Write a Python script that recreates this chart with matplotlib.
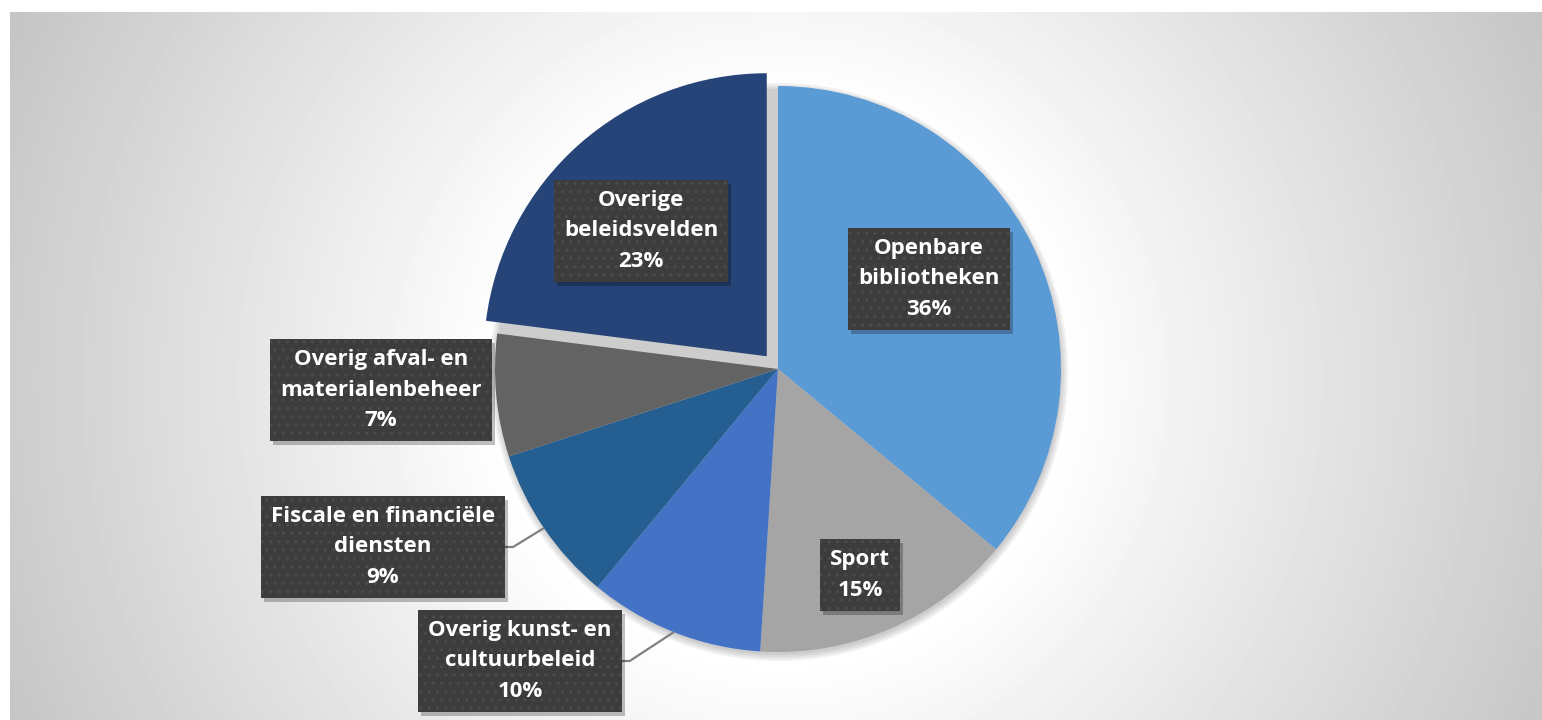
import numpy as np
import matplotlib
matplotlib.use("Agg")
import matplotlib.pyplot as plt
from matplotlib.patches import Rectangle, Circle

# data
categories = [
    "Openbare\nbibliotheken",
    "Sport",
    "Overig kunst- en\ncultuurbeleid",
    "Fiscale en financiële\ndiensten",
    "Overig afval- en\nmaterialenbeheer",
    "Overige\nbeleidsvelden",
]
shares = [36, 15, 10, 9, 7, 23]
colors = ["#5B9BD5", "#A5A5A5", "#4472C4", "#255E91", "#636363", "#264478"]
explode = [0, 0, 0, 0, 0, 17]

# label box centres in pixel coords (x, y from top) and which get leaders
label_pos = [(929, 279), (860, 575), (520, 661), (383, 547), (381, 390), (641, 231)]
has_leader = [False, False, True, True, False, False]

W, H = 1542, 720
fig = plt.figure(figsize=(W / 100, H / 100), dpi=100)
fig.patch.set_facecolor("white")
ax = fig.add_axes([0, 0, 1, 1])

# radial gradient background of the chart area
cx, cy = 780, 380
xs = np.arange(10, W) + 0.5
ys = np.arange(12, H) + 0.5
X, Y = np.meshgrid(xs, ys)
d = np.hypot(X - cx, Y - cy)
v = np.clip(1.113 - 0.000403 * d, 0, 1)
ax.imshow(v, cmap="gray", vmin=0, vmax=1, extent=[10, W, 0, H - 12],
          origin="upper", zorder=0, interpolation="bilinear", aspect="auto")

center = (778, H - 369)
radius = 283

# soft shadow under the pie
for k in range(4):
    ax.add_patch(Circle((center[0] + 1, center[1] - 3), radius + 6 - 2 * k,
                        color="black", alpha=0.05, lw=0, zorder=1))

wedges, _ = ax.pie(shares, colors=colors, startangle=90, counterclock=False,
                   center=center, radius=radius, explode=explode,
                   wedgeprops=dict(linewidth=0), frame=True)
for w in wedges:
    w.set_zorder(2)
ax.set_xlim(0, W)
ax.set_ylim(0, H)
ax.set_aspect("equal")
ax.axis("off")

plt.rcParams["hatch.linewidth"] = 1.2
texts = []
for cat, val, (px, py) in zip(categories, shares, label_pos):
    t = ax.text(px, H - py, f"{cat}\n{val}%", ha="center", va="center",
                multialignment="center", color="white", fontsize=16,
                fontweight="bold", family=["Open Sans", "DejaVu Sans"],
                linespacing=1.6, zorder=5,
                bbox=dict(boxstyle="square,pad=0.45", facecolor="#3c3c3c",
                          edgecolor="#4a4a4a", linewidth=0))
    t.get_bbox_patch().set_hatch("..")
    texts.append(t)

fig.canvas.draw()
for t, w, lead in zip(texts, wedges, has_leader):
    bb = t.get_bbox_patch().get_window_extent()
    # box shadow
    ax.add_patch(Rectangle((bb.x0 + 3, bb.y0 - 4), bb.width, bb.height,
                           color="black", alpha=0.25, lw=0, zorder=4))
    if lead:
        mid = np.deg2rad((w.theta1 + w.theta2) / 2)
        ex = w.center[0] + w.r * np.cos(mid)
        ey = w.center[1] + w.r * np.sin(mid)
        ym = (bb.y0 + bb.y1) / 2
        ax.plot([bb.x1, bb.x1 + 8, ex], [ym, ym, ey], color="#808080",
                lw=1.6, zorder=3, solid_capstyle="butt")

fig.savefig("out.png", dpi=100, facecolor="white")
